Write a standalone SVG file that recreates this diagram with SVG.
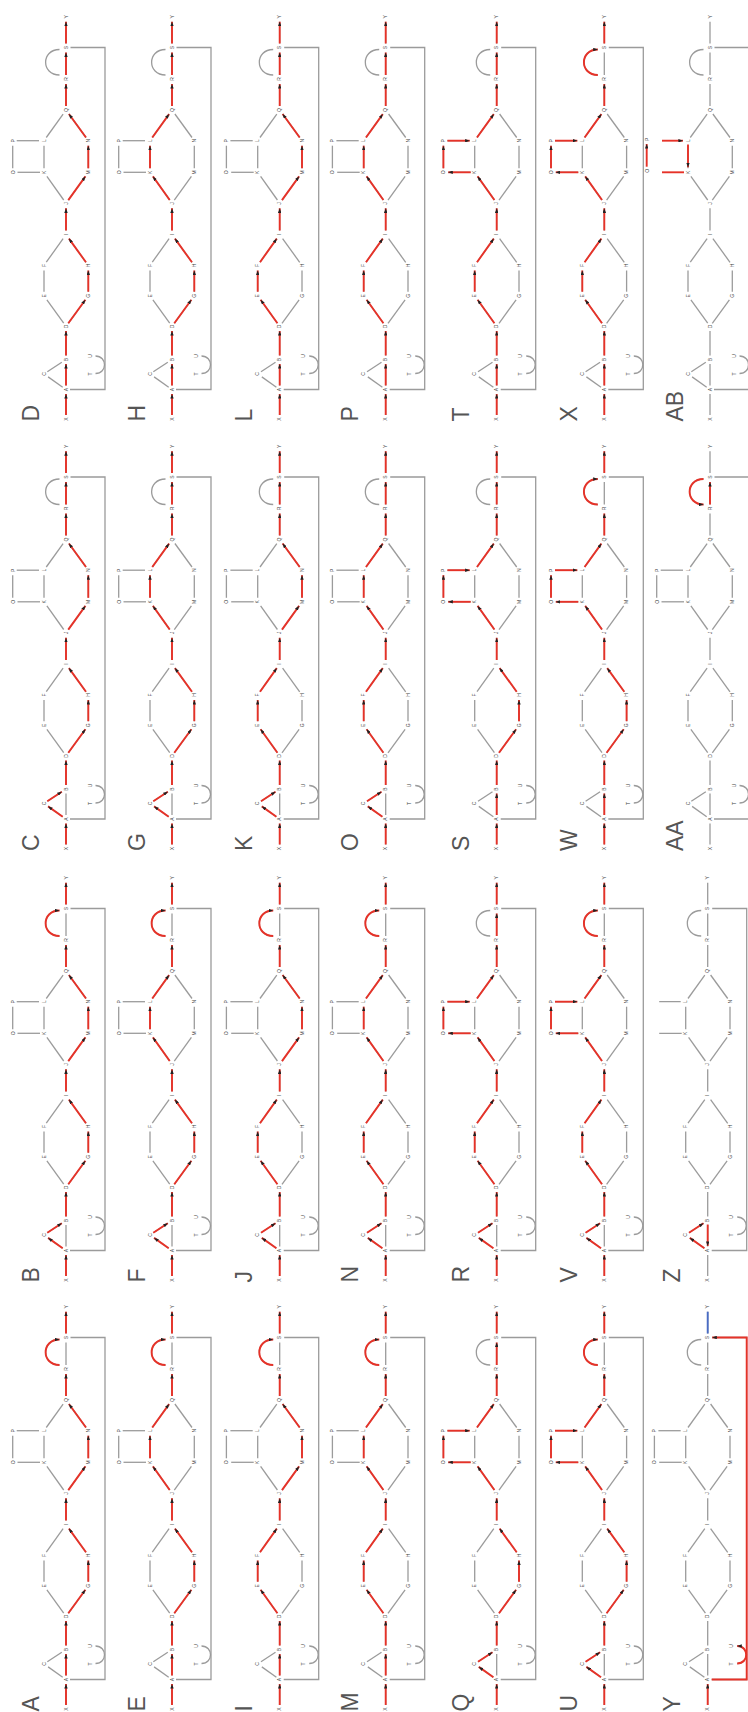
<svg xmlns="http://www.w3.org/2000/svg" xmlns:xlink="http://www.w3.org/1999/xlink" width="748" height="1712" viewBox="0 0 748 1712">
<style>
.g{fill:none;stroke:#9b9b9b;stroke-width:1.3}
.r{fill:none;stroke:#e63228;stroke-width:1.9;marker-end:url(#ah)}
.rn{fill:none;stroke:#e63228;stroke-width:1.9}
.b{fill:none;stroke:#4a6cc4;stroke-width:1.9}
.n{font-family:"Liberation Sans",Arial,sans-serif;font-size:5px;fill:#444;text-anchor:middle}
.pl{font-family:"Liberation Sans",Arial,sans-serif;font-size:23px;fill:#555}
</style>
<defs>
<marker id="ah" viewBox="0 0 8 6" refX="8" refY="3" markerWidth="4.6" markerHeight="3.5" markerUnits="userSpaceOnUse" orient="auto"><path d="M0,0L8,3L0,6z" fill="#222"/></marker>
<path id="eXA" d="M7,67H28"/>
<path id="eAB" d="M36.5,67H58"/>
<path id="eBA" d="M58.5,67H37"/>
<path id="eBD" d="M66.5,67H91"/>
<path id="eAC" d="M34.8,63.7L45.1,49.1"/>
<path id="eCB" d="M50.2,48.3L59.8,62.8"/>
<path id="eDE" d="M98.8,64.7L122.2,47.9"/>
<path id="eDG" d="M98.7,69.3L122.2,86.4"/>
<path id="eEF" d="M130.3,45H151.5"/>
<path id="eGH" d="M130.3,89.3H151.5"/>
<path id="eFI" d="M159.8,47.3L183.4,64.1"/>
<path id="eHI" d="M159.7,87L183.4,69.9"/>
<path id="eIJ" d="M191.5,67H213.7"/>
<path id="eJK" d="M222,64.7L245.6,47.9"/>
<path id="eJM" d="M221.9,69.3L245.6,86.4"/>
<path id="eKL" d="M253.7,45H276.3"/>
<path id="eMN" d="M253.7,89.3H276.3"/>
<path id="eLQ" d="M284.5,47.3L307.9,64.1"/>
<path id="eNQ" d="M284.5,87L308,69.9"/>
<path id="eKO" d="M249.7,41V18.5"/>
<path id="eOP" d="M253.7,13.7H276.3"/>
<path id="ePL" d="M281.3,17.7V40"/>
<path id="eQR" d="M316,67H338"/>
<path id="eRS" d="M347,67H369.5"/>
<path id="eSY" d="M378.5,67H400.3"/>
<path id="aRS" d="M347,60.5C347,42 372.5,42 372.5,60.5"/>
<path id="aSR" d="M372.5,60.5C372.5,42 347,42 347,60.5"/>
<path id="aTU" d="M48.5,96.5C48.5,108.5 66,108.5 66,96.5"/>
<path id="rAS" d="M32.5,71V106H374.5V71.5"/>
<g id="core">
<g id="base-edges" class="g">
<use href="#eXA"/><use href="#eAB"/><use href="#eBD"/><use href="#eAC"/><use href="#eCB"/>
<use href="#eDE"/><use href="#eDG"/><use href="#eEF"/><use href="#eGH"/><use href="#eFI"/><use href="#eHI"/>
<use href="#eIJ"/><use href="#eJK"/><use href="#eJM"/><use href="#eKL"/><use href="#eMN"/><use href="#eLQ"/><use href="#eNQ"/>
<use href="#eQR"/><use href="#eRS"/><use href="#eSY"/><use href="#aRS"/><use href="#aTU"/><use href="#rAS"/>
</g>
<g id="base-nodes" class="n">
<g id="n-X"><text x="3" y="68.8">X</text></g>
<g id="n-A"><text x="32.5" y="68.8">A</text></g>
<g id="n-C"><text x="48" y="46.8">C</text></g>
<g id="n-B"><text x="62.5" y="68.8">B</text></g>
<g id="n-T"><text x="48" y="92.8">T</text></g>
<g id="n-U"><text x="66" y="92.8">U</text></g>
<g id="n-D"><text x="95.5" y="68.8">D</text></g>
<g id="n-E"><text x="126.3" y="46.8">E</text></g>
<g id="n-G"><text x="126.3" y="91.1">G</text></g>
<g id="n-F"><text x="156.5" y="46.8">F</text></g>
<g id="n-H"><text x="156.5" y="91.1">H</text></g>
<g id="n-I"><text x="187.5" y="68.8">I</text></g>
<g id="n-J"><text x="218.7" y="68.8">J</text></g>
<g id="n-K"><text x="249.7" y="46.8">K</text></g>
<g id="n-M"><text x="249.7" y="91.1">M</text></g>
<g id="n-L"><text x="281.3" y="46.8">L</text></g>
<g id="n-N"><text x="281.3" y="91.1">N</text></g>
<g id="n-Q"><text x="312" y="68.8">Q</text></g>
<g id="n-R"><text x="343" y="68.8">R</text></g>
<g id="n-S"><text x="374.5" y="68.8">S</text></g>
<g id="n-Y"><text x="405.3" y="68.8">Y</text></g>
</g>
</g>
<g id="op">
<g class="g"><use href="#eKO"/><use href="#eOP"/><use href="#ePL"/></g>
<g class="n"><g id="n-O"><text x="249.7" y="15.5">O</text></g><g id="n-P"><text x="281.3" y="15.5">P</text></g></g>
</g>
<g id="base"><use href="#core"/><use href="#op"/></g>
<g id="sXAB"><use href="#eXA"/><use href="#eAB"/><use href="#eBD"/></g>
<g id="sXACB"><use href="#eXA"/><use href="#eAC"/><use href="#eCB"/><use href="#eBD"/></g>
<g id="sDGHI"><use href="#eDG"/><use href="#eGH"/><use href="#eHI"/><use href="#eIJ"/></g>
<g id="sDEFI"><use href="#eDE"/><use href="#eEF"/><use href="#eFI"/><use href="#eIJ"/></g>
<g id="sJMNQ"><use href="#eJM"/><use href="#eMN"/><use href="#eNQ"/><use href="#eQR"/></g>
<g id="sJKLQ"><use href="#eJK"/><use href="#eKL"/><use href="#eLQ"/><use href="#eQR"/></g>
<g id="sJKOPLQ"><use href="#eJK"/><use href="#eKO"/><use href="#eOP"/><use href="#ePL"/><use href="#eLQ"/><use href="#eQR"/></g>
<g id="sArc"><use href="#aRS"/><use href="#eSY"/></g>
<g id="sStr"><use href="#eRS"/><use href="#eSY"/></g>
</defs>
<g transform="translate(0,1712) rotate(-90)">
<g id="panel-A" transform="translate(0,-1)"><use href="#base"/><text class="pl" x="0.5" y="39.5">A</text><g class="r"><use href="#sXAB"/><use href="#sDGHI"/><use href="#sJMNQ"/><use href="#sArc"/></g></g>
<g id="panel-B" transform="translate(429,-1)"><use href="#base"/><text class="pl" x="0.5" y="39.5">B</text><g class="r"><use href="#sXACB"/><use href="#sDGHI"/><use href="#sJMNQ"/><use href="#sArc"/></g></g>
<g id="panel-C" transform="translate(860.5,-1)"><use href="#base"/><text class="pl" x="0.5" y="39.5">C</text><g class="r"><use href="#sXACB"/><use href="#sDGHI"/><use href="#sJMNQ"/><use href="#sStr"/></g></g>
<g id="panel-D" transform="translate(1290,-1)"><use href="#base"/><text class="pl" x="0.5" y="39.5">D</text><g class="r"><use href="#sXAB"/><use href="#sDGHI"/><use href="#sJMNQ"/><use href="#sStr"/></g></g>
<g id="panel-E" transform="translate(0,105)"><use href="#base"/><text class="pl" x="0.5" y="39.5">E</text><g class="r"><use href="#sXAB"/><use href="#sDGHI"/><use href="#sJKLQ"/><use href="#sArc"/></g></g>
<g id="panel-F" transform="translate(429,105)"><use href="#base"/><text class="pl" x="0.5" y="39.5">F</text><g class="r"><use href="#sXACB"/><use href="#sDGHI"/><use href="#sJKLQ"/><use href="#sArc"/></g></g>
<g id="panel-G" transform="translate(860.5,105)"><use href="#base"/><text class="pl" x="0.5" y="39.5">G</text><g class="r"><use href="#sXACB"/><use href="#sDGHI"/><use href="#sJKLQ"/><use href="#sStr"/></g></g>
<g id="panel-H" transform="translate(1290,105)"><use href="#base"/><text class="pl" x="0.5" y="39.5">H</text><g class="r"><use href="#sXAB"/><use href="#sDGHI"/><use href="#sJKLQ"/><use href="#sStr"/></g></g>
<g id="panel-I" transform="translate(0,212.7)"><use href="#base"/><text class="pl" x="0.5" y="39.5">I</text><g class="r"><use href="#sXAB"/><use href="#sDEFI"/><use href="#sJMNQ"/><use href="#sArc"/></g></g>
<g id="panel-J" transform="translate(429,212.7)"><use href="#base"/><text class="pl" x="0.5" y="39.5">J</text><g class="r"><use href="#sXACB"/><use href="#sDEFI"/><use href="#sJMNQ"/><use href="#sArc"/></g></g>
<g id="panel-K" transform="translate(860.5,212.7)"><use href="#base"/><text class="pl" x="0.5" y="39.5">K</text><g class="r"><use href="#sXACB"/><use href="#sDEFI"/><use href="#sJMNQ"/><use href="#sStr"/></g></g>
<g id="panel-L" transform="translate(1290,212.7)"><use href="#base"/><text class="pl" x="0.5" y="39.5">L</text><g class="r"><use href="#sXAB"/><use href="#sDEFI"/><use href="#sJMNQ"/><use href="#sStr"/></g></g>
<g id="panel-M" transform="translate(0,318.7)"><use href="#base"/><text class="pl" x="0.5" y="39.5">M</text><g class="r"><use href="#sXAB"/><use href="#sDEFI"/><use href="#sJKLQ"/><use href="#sArc"/></g></g>
<g id="panel-N" transform="translate(429,318.7)"><use href="#base"/><text class="pl" x="0.5" y="39.5">N</text><g class="r"><use href="#sXACB"/><use href="#sDEFI"/><use href="#sJKLQ"/><use href="#sArc"/></g></g>
<g id="panel-O" transform="translate(860.5,318.7)"><use href="#base"/><text class="pl" x="0.5" y="39.5">O</text><g class="r"><use href="#sXACB"/><use href="#sDEFI"/><use href="#sJKLQ"/><use href="#sStr"/></g></g>
<g id="panel-P" transform="translate(1290,318.7)"><use href="#base"/><text class="pl" x="0.5" y="39.5">P</text><g class="r"><use href="#sXAB"/><use href="#sDEFI"/><use href="#sJKLQ"/><use href="#sStr"/></g></g>
<g id="panel-Q" transform="translate(0,429.7)"><use href="#base"/><text class="pl" x="0.5" y="39.5">Q</text><g class="r"><use href="#sXACB"/><use href="#sDGHI"/><use href="#sJKOPLQ"/><use href="#sStr"/></g></g>
<g id="panel-R" transform="translate(429,429.7)"><use href="#base"/><text class="pl" x="0.5" y="39.5">R</text><g class="r"><use href="#sXACB"/><use href="#sDEFI"/><use href="#sJKOPLQ"/><use href="#sStr"/></g></g>
<g id="panel-S" transform="translate(860.5,429.7)"><use href="#base"/><text class="pl" x="0.5" y="39.5">S</text><g class="r"><use href="#sXAB"/><use href="#sDGHI"/><use href="#sJKOPLQ"/><use href="#sStr"/></g></g>
<g id="panel-T" transform="translate(1290,429.7)"><use href="#base"/><text class="pl" x="0.5" y="39.5">T</text><g class="r"><use href="#sXAB"/><use href="#sDEFI"/><use href="#sJKOPLQ"/><use href="#sStr"/></g></g>
<g id="panel-U" transform="translate(0,537.3)"><use href="#base"/><text class="pl" x="0.5" y="39.5">U</text><g class="r"><use href="#sXACB"/><use href="#sDGHI"/><use href="#sJKOPLQ"/><use href="#sArc"/></g></g>
<g id="panel-V" transform="translate(429,537.3)"><use href="#base"/><text class="pl" x="0.5" y="39.5">V</text><g class="r"><use href="#sXACB"/><use href="#sDEFI"/><use href="#sJKOPLQ"/><use href="#sArc"/></g></g>
<g id="panel-W" transform="translate(860.5,537.3)"><use href="#base"/><text class="pl" x="0.5" y="39.5">W</text><g class="r"><use href="#sXAB"/><use href="#sDGHI"/><use href="#sJKOPLQ"/><use href="#sArc"/></g></g>
<g id="panel-X" transform="translate(1290,537.3)"><use href="#base"/><text class="pl" x="0.5" y="39.5">X</text><g class="r"><use href="#sXAB"/><use href="#sDEFI"/><use href="#sJKOPLQ"/><use href="#sArc"/></g></g>
<g id="panel-Y" transform="translate(0,640.7)"><use href="#base"/><text class="pl" x="0.5" y="39.5">Y</text><g class="r"><use href="#eXA"/><use href="#rAS"/><use href="#aTU"/></g><use class="b" href="#eSY"/></g>
<g id="panel-Z" transform="translate(429,640.7)"><use href="#core"/><text class="pl" x="0.5" y="39.5">Z</text><path class="g" d="M249.7,41V18.5M281.3,40V18.5"/><g class="r"><use href="#eAC"/><use href="#eCB"/><use href="#eBA"/></g></g>
<g id="panel-AA" transform="translate(860.5,643)"><use href="#base"/><text class="pl" x="0.5" y="39.5">AA</text><g class="r"><use href="#eRS"/><use href="#aSR"/></g></g>
<g id="panel-AB" transform="translate(1290,643)"><use href="#core"/><text class="pl" x="0.5" y="39.5">AB</text><g class="n"><g id="n-AB-O"><text x="251.3" y="5.5">O</text></g><g id="n-AB-P"><text x="282.7" y="5.5">P</text></g></g><path class="rn" d="M249.7,41V19"/><g class="r"><path d="M255.3,3.7H278"/><path d="M281.3,19V40"/><path d="M277.5,45H254.7"/></g></g>
</g>
</svg>
